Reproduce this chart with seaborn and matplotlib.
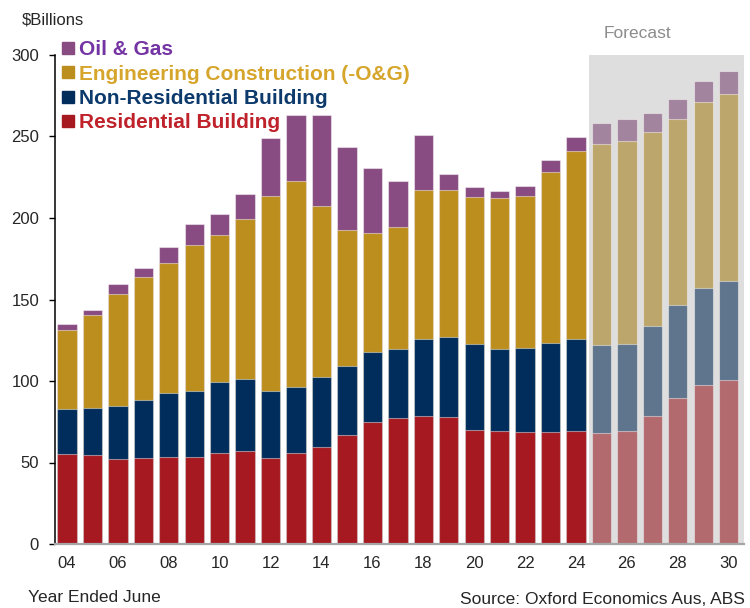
import pandas as pd
import matplotlib.pyplot as plt
from matplotlib.lines import Line2D
import seaborn as sns

# Data ($ billions), year ended June; 25 onwards is forecast
years = ['04', '05', '06', '07', '08', '09', '10', '11', '12', '13', '14', '15', '16', '17',
         '18', '19', '20', '21', '22', '23', '24', '25', '26', '27', '28', '29', '30']
residential = [55.5, 54.7, 52.0, 52.6, 53.3, 53.3, 55.7, 56.9, 52.6, 55.7, 59.6, 66.7, 75.1, 77.1,
               78.6, 78.1, 69.8, 69.2, 68.6, 68.7, 69.3, 68.1, 69.3, 78.8, 89.4, 97.6, 100.7]
non_residential = [27.5, 29.0, 32.9, 35.9, 39.1, 40.4, 43.7, 44.1, 41.1, 40.4, 42.6, 42.3, 42.8, 42.7,
                   47.3, 49.0, 52.6, 50.6, 51.4, 54.4, 56.7, 53.7, 53.4, 55.2, 57.1, 59.6, 60.7]
engineering = [48.2, 56.5, 68.2, 75.2, 80.0, 89.5, 90.4, 98.6, 120.0, 126.3, 105.4, 83.9, 73.1, 74.7,
               91.5, 90.3, 90.2, 92.2, 93.7, 104.9, 114.9, 123.9, 124.5, 118.5, 114.0, 113.8, 114.5]
oil_gas = [3.7, 3.1, 6.7, 5.9, 9.6, 13.3, 12.9, 15.3, 35.1, 40.9, 55.5, 50.8, 39.8, 28.1,
           33.8, 9.9, 6.2, 4.3, 6.1, 7.4, 8.8, 12.5, 13.3, 11.8, 12.4, 13.1, 14.3]
first_forecast = '25'

df = pd.DataFrame({'year': years, 'res': residential, 'nonres': non_residential,
                   'eng': engineering, 'og': oil_gas})
df['forecast'] = df['year'] >= first_forecast
df['top_res'] = df['res']
df['top_nonres'] = df['top_res'] + df['nonres']
df['top_eng'] = df['top_nonres'] + df['eng']
df['top_og'] = df['top_eng'] + df['og']

# (column, label, bar colour, forecast colour, legend text colour)
layers = [
    ('top_og', 'Oil & Gas', '#884C82', '#A3849F', '#7434A3'),
    ('top_eng', 'Engineering Construction (-O&G)', '#BB8E1E', '#BCA66C', '#D6A52C'),
    ('top_nonres', 'Non-Residential Building', '#002D5C', '#5F758E', '#0D3A6C'),
    ('top_res', 'Residential Building', '#A61920', '#B36A6E', '#C0222B'),
]

sns.set_style('white')
plt.rcParams['font.family'] = ['Liberation Sans', 'DejaVu Sans']

fig = plt.figure(figsize=(7.5, 6.08), dpi=100)
ax = fig.add_axes([55 / 750, 64 / 608, 689 / 750, 489 / 608])

# forecast shading
ax.axvspan(20.5, 26.6, color='#DEDEDE', lw=0, zorder=0)

# stacked bars: draw cumulative totals, tallest first
for col, label, c_act, c_fc, _ in layers:
    pal = {y: (c_fc if f else c_act) for y, f in zip(df['year'], df['forecast'])}
    sns.barplot(data=df, x='year', y=col, hue='year', palette=pal, order=years,
                legend=False, width=0.76, saturation=1, edgecolor=(1, 1, 1, 0.45),
                linewidth=0.8, ax=ax, zorder=2)

ax.set_xlim(-0.47, 26.6)
ax.set_ylim(0, 300)
ax.set_yticks(range(0, 301, 50))
ax.set_xticks(range(0, len(years), 2))
ax.set_xticklabels(years[::2])
ax.set_xlabel('')
ax.set_ylabel('')
ax.tick_params(axis='x', length=0, pad=9, labelsize=12)
ax.tick_params(axis='y', length=4.5, width=1, color='black', pad=7, labelsize=12, left=True)

for s in ['top', 'right']:
    ax.spines[s].set_visible(False)
ax.spines['left'].set_color('black')
ax.spines['left'].set_linewidth(1.1)
ax.spines['bottom'].set_color('#A6A6A6')
ax.spines['bottom'].set_linewidth(1.6)

ax.text(22.4, 1.043, 'Forecast', transform=ax.get_xaxis_transform(), ha='center', va='center',
        color='#8C8C8C', fontsize=12.5)

handles = [Line2D([], [], marker='s', linestyle='', color=c, markersize=8) for _, _, c, _, _ in layers]
fig.legend(handles, [l[1] for l in layers], loc='upper left', bbox_to_anchor=(50 / 750, 1 - 30 / 608),
           frameon=False, borderpad=0, handlelength=0.7, handletextpad=0.2, labelspacing=0.25,
           labelcolor=[l[4] for l in layers], prop={'weight': 'bold', 'size': 15})

fig.text(22 / 750, 1 - 20 / 608, '$Billions', ha='left', va='center', fontsize=12)
fig.text(28 / 750, 1 - 598 / 608, 'Year Ended June', ha='left', va='center', fontsize=12.5)
fig.text(745 / 750, 1 - 600 / 608, 'Source: Oxford Economics Aus, ABS', ha='right', va='center', fontsize=12.5)

fig.savefig('out.png', dpi=100)
